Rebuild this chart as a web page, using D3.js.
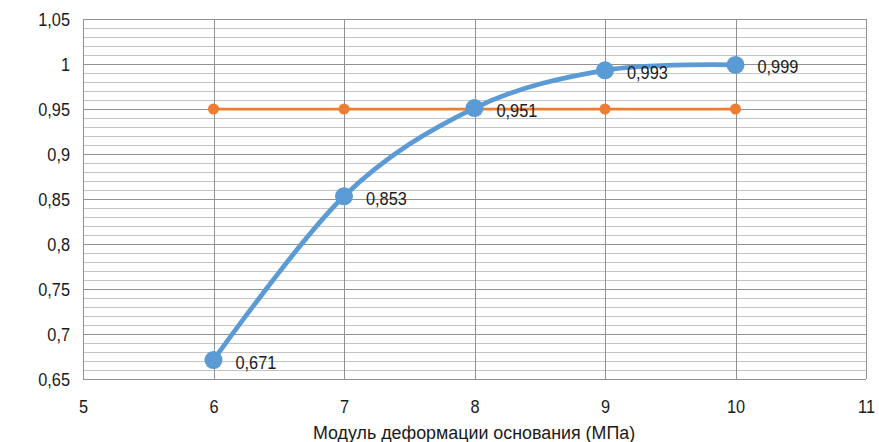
<!DOCTYPE html>
<html><head><meta charset="utf-8">
<script src="https://cdn.jsdelivr.net/npm/d3@7"></script>
<style>
body{margin:0;background:#fff;}
text{font-family:"Liberation Sans",Arial,sans-serif;fill:#1a1a1a;}
</style></head>
<body><svg id="c" width="879" height="442"></svg>
<script>
const xValues = [6, 7, 8, 9, 10];
const reliability = [0.671, 0.853, 0.951, 0.993, 0.999];
const threshold = [0.95, 0.95, 0.95, 0.95, 0.95];
const xTicks = [5, 6, 7, 8, 9, 10, 11];
const yTicks = [0.65, 0.7, 0.75, 0.8, 0.85, 0.9, 0.95, 1, 1.05];
const xTitle = "Модуль деформации основания (МПа)";

const svg = d3.select("#c");
const L = 83, R = 866, T = 19, B = 379;
const SX = 0.86, FS = 19;
const x = d3.scaleLinear().domain([5, 11]).range([L, R]);
const y = d3.scaleLinear().domain([0.65, 1.05]).range([B, T]);
const fmt = v => String(v).replace(".", ",");

// minor grid
const minor = d3.range(0, 41).map(i => +(0.65 + i * 0.01).toFixed(2));
svg.append("g").selectAll("line").data(minor).join("line")
  .attr("x1", L).attr("x2", R)
  .attr("y1", d => Math.round(y(d)) + 0.5).attr("y2", d => Math.round(y(d)) + 0.5)
  .attr("stroke", "#c4c4c4").attr("stroke-width", 1);
// major grid
svg.append("g").selectAll("line").data(yTicks).join("line")
  .attr("x1", L).attr("x2", R)
  .attr("y1", d => Math.round(y(d)) + 0.5).attr("y2", d => Math.round(y(d)) + 0.5)
  .attr("stroke", "#929292").attr("stroke-width", 1);
svg.append("g").selectAll("line").data(xTicks).join("line")
  .attr("y1", T).attr("y2", B)
  .attr("x1", d => Math.round(x(d)) + 0.5).attr("x2", d => Math.round(x(d)) + 0.5)
  .attr("stroke", "#929292").attr("stroke-width", 1);

// axes labels
const yAxis = d3.axisLeft(y).tickValues(yTicks).tickFormat(fmt).tickSize(0).tickPadding(13);
const ga = svg.append("g").attr("transform", `translate(${L},0)`).call(yAxis);
ga.select(".domain").remove();
ga.selectAll("text").style("font-size", FS + "px").attr("fill", "#1a1a1a")
  .attr("x", -13 / SX).attr("dy", "0.36em").attr("transform", `scale(${SX},1)`);
const xAxis = d3.axisBottom(x).tickValues(xTicks).tickFormat(fmt).tickSize(0).tickPadding(21);
const gx = svg.append("g").attr("transform", `translate(0,${B})`).call(xAxis);
gx.select(".domain").remove();
gx.selectAll("text").style("font-size", FS + "px").attr("fill", "#1a1a1a")
  .attr("transform", `scale(${SX},1)`);

svg.append("text").attr("transform", `translate(${(L + R) / 2 - 0.5},439) scale(0.94,1)`)
  .attr("text-anchor", "middle").style("font-size", FS + "px").text(xTitle);

// threshold series
const pts2 = xValues.map((d, i) => [d, threshold[i]]);
svg.append("path").datum(pts2)
  .attr("d", d3.line().x(d => x(d[0])).y(d => y(d[1])))
  .attr("fill", "none").attr("stroke", "#ed7d31").attr("stroke-width", 2.75);
svg.append("g").selectAll("circle").data(pts2).join("circle")
  .attr("cx", d => x(d[0])).attr("cy", d => y(d[1])).attr("r", 5.5).attr("fill", "#ed7d31");

// reliability series
const pts = xValues.map((d, i) => [d, reliability[i]]);
svg.append("path").datum(pts)
  .attr("d", d3.line().curve(d3.curveCardinal.tension(0)).x(d => x(d[0])).y(d => y(d[1])))
  .attr("fill", "none").attr("stroke", "#5b9bd5").attr("stroke-width", 4.75).attr("stroke-linecap", "round");
svg.append("g").selectAll("circle").data(pts).join("circle")
  .attr("cx", d => x(d[0])).attr("cy", d => y(d[1])).attr("r", 9).attr("fill", "#5b9bd5");
svg.append("g").selectAll("text").data(pts).join("text")
  .attr("transform", d => `translate(${x(d[0]) + 22},${y(d[1]) + 8.5}) scale(${SX},1)`)
  .style("font-size", FS + "px").text(d => fmt(d[1]));
</script></body></html>
